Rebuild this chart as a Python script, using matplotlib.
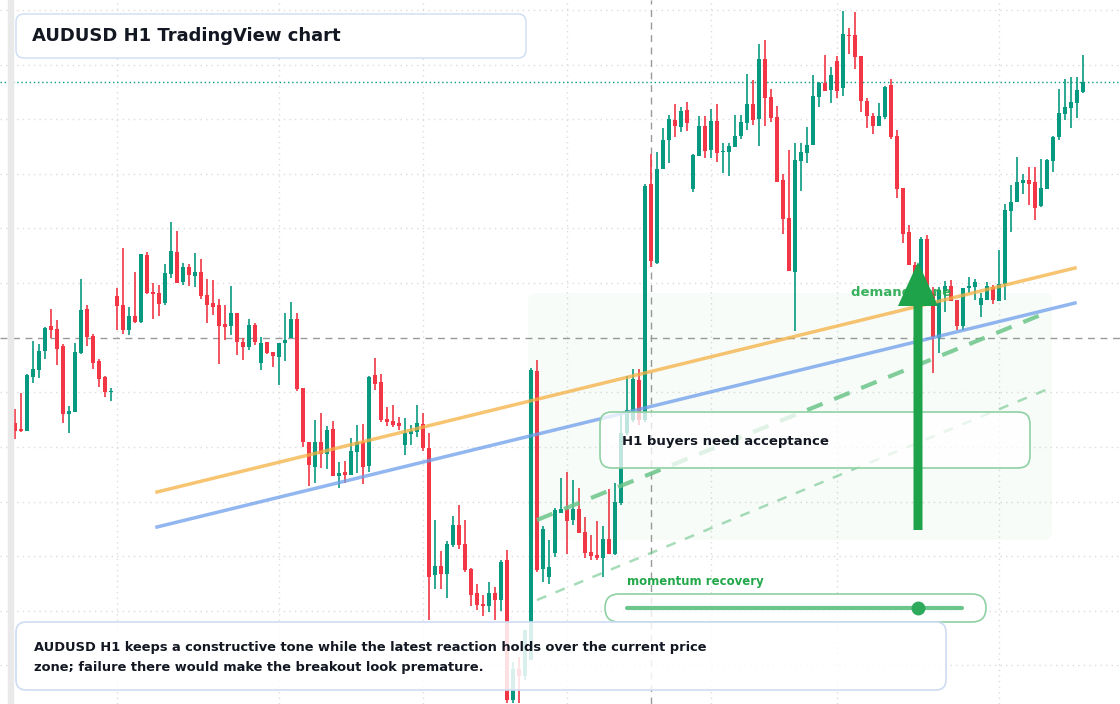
import matplotlib.pyplot as plt
import matplotlib.patches as patches
import numpy as np

# candle levels (screen rows, smaller = higher price)
opens = [423, 429, 431, 377, 370, 351, 326, 329, 346, 414, 412, 353, 309, 336, 361, 377, 392,
         296, 305, 330, 316, 322, 255, 292, 293, 303, 274, 252, 282, 267, 276, 272, 295, 303,
         305, 324, 326, 313, 342, 347, 325, 363, 342, 352, 357, 343, 338, 319, 388, 442, 467,
         442, 454, 429, 476, 472, 475, 452, 442, 466, 375, 382, 419, 421, 423, 445, 434, 432,
         424, 448, 575, 566, 574, 545, 525, 544, 569, 593, 604, 606, 593, 600, 560, 700, 669,
         676, 660, 371, 569, 577, 553, 513, 509, 520, 509, 532, 552, 555, 558, 539, 554, 503,
         433, 420, 380, 420, 184, 263, 169, 140, 120, 127, 110, 189, 156, 126, 150, 121, 152,
         152, 147, 136, 123, 104, 119, 59, 97, 117, 180, 218, 272, 161, 153, 145, 97, 83, 90,
         61, 88, 35, 35, 56, 101, 116, 126, 117, 85, 136, 188, 232, 265, 290, 239, 293, 338,
         291, 286, 300, 326, 288, 287, 305, 300, 287, 301, 284, 211, 202, 183, 180, 182, 206,
         189, 161, 137, 114, 108, 103, 92]
closes = [431, 431, 375, 369, 351, 328, 330, 349, 414, 411, 352, 310, 337, 363, 379, 392, 391,
          306, 330, 316, 322, 254, 293, 294, 304, 273, 251, 283, 267, 275, 272, 296, 305, 307,
          326, 327, 313, 342, 347, 325, 342, 343, 353, 356, 343, 340, 319, 389, 442, 465, 442,
          454, 430, 476, 473, 475, 451, 442, 467, 377, 384, 420, 422, 425, 426, 433, 431, 423,
          448, 577, 566, 574, 544, 525, 545, 570, 595, 605, 606, 593, 600, 562, 700, 669, 676,
          630, 370, 570, 529, 567, 510, 509, 521, 509, 533, 553, 556, 558, 539, 554, 502, 433,
          410, 379, 420, 186, 261, 169, 140, 119, 126, 111, 123, 155, 126, 151, 121, 153, 151,
          146, 136, 122, 104, 120, 59, 98, 118, 182, 219, 271, 160, 152, 145, 96, 83, 91, 75,
          91, 34, 36, 57, 101, 116, 126, 116, 87, 137, 189, 234, 265, 300, 239, 293, 337, 290,
          286, 301, 326, 288, 286, 282, 298, 286, 300, 284, 210, 202, 182, 180, 184, 208, 188,
          160, 137, 113, 107, 102, 90, 82]
highs = [409, 393, 374, 341, 344, 327, 309, 320, 344, 406, 343, 279, 305, 334, 359, 376, 388,
         288, 248, 307, 272, 254, 252, 283, 285, 264, 222, 231, 263, 264, 253, 259, 279, 280,
         299, 305, 286, 313, 338, 319, 323, 337, 342, 352, 343, 313, 302, 313, 388, 442, 420,
         413, 426, 421, 462, 461, 438, 425, 424, 376, 358, 374, 407, 405, 417, 418, 425, 405,
         413, 433, 520, 551, 541, 516, 505, 520, 568, 584, 595, 582, 587, 560, 550, 662, 657,
         630, 368, 360, 526, 540, 508, 478, 472, 480, 488, 517, 535, 521, 526, 489, 483, 413,
         376, 369, 369, 184, 154, 152, 128, 115, 104, 107, 102, 154, 116, 116, 109, 104, 143,
         143, 115, 115, 74, 80, 44, 40, 89, 106, 174, 150, 143, 143, 127, 75, 82, 55, 67,
         56, 11, 28, 12, 56, 98, 113, 103, 86, 79, 130, 188, 225, 262, 237, 235, 287, 287,
         281, 280, 300, 288, 277, 279, 293, 282, 285, 250, 204, 185, 157, 174, 167, 167, 159,
         159, 136, 89, 79, 77, 77, 55]
lows = [439, 432, 431, 383, 378, 359, 338, 365, 423, 433, 412, 354, 346, 369, 387, 397, 401,
        330, 334, 335, 323, 323, 294, 319, 316, 305, 278, 283, 285, 286, 287, 299, 323, 315,
        364, 340, 335, 355, 360, 350, 345, 370, 354, 367, 385, 361, 338, 391, 447, 486, 483,
        468, 469, 476, 488, 483, 475, 473, 484, 472, 390, 422, 426, 427, 430, 455, 445, 437,
        451, 620, 589, 589, 598, 547, 549, 572, 606, 610, 616, 612, 620, 611, 703, 703, 703,
        680, 660, 572, 582, 584, 557, 513, 554, 525, 533, 558, 560, 560, 577, 554, 555, 505,
        435, 422, 425, 422, 267, 264, 169, 163, 137, 132, 131, 192, 156, 158, 158, 162, 173,
        176, 147, 139, 130, 125, 146, 126, 122, 182, 234, 271, 331, 191, 163, 145, 107, 91,
        103, 98, 96, 54, 69, 112, 128, 134, 126, 119, 139, 198, 243, 265, 310, 292, 300, 373,
        353, 312, 301, 330, 330, 293, 300, 317, 300, 304, 301, 300, 232, 202, 194, 205, 220,
        207, 189, 172, 140, 120, 128, 118, 93]

up_color = '#089981'
down_color = '#F23645'

fig = plt.figure(figsize=(11.2, 7.04), dpi=100)
ax = fig.add_axes([0, 0, 1, 1])
idx = np.arange(len(opens))
ax.set_xlim(-2.5, (1120 - 15) / 6)
ax.set_ylim(704, 0)
ax.axis('off')

# overlay in screen pixels for guides and annotations
ov = fig.add_axes([0, 0, 1, 1], facecolor='none')
ov.set_xlim(0, 1120)
ov.set_ylim(704, 0)
ov.axis('off')

# grid
for gx in [117, 279, 423, 567, 711, 837, 999]:
    ax.axvline((gx - 15) / 6, color='#dcdcdc', lw=1, ls=(0, (1, 3)), zorder=0)
for gy in [10, 65, 119, 174, 228, 283, 392, 447, 502, 556, 611, 665]:
    ax.axhline(gy, color='#dcdcdc', lw=1, ls=(0, (1, 3)), zorder=0)
ov.add_patch(patches.Rectangle((8, 0), 5, 704, color='#e9e9e9', zorder=0))

# crosshair and last price
ax.axhline(338, color='#9a9a9a', lw=1, ls=(0, (5, 4)), zorder=1)
ax.axvline((651 - 15) / 6, color='#9a9a9a', lw=1, ls=(0, (5, 4)), zorder=1)
ax.axhline(82, color='#089981', lw=1, ls=(0, (1, 2)), zorder=1)

# demand zone shading
ov.add_patch(patches.FancyBboxPatch((528, 293), 524, 247, boxstyle='round,pad=0,rounding_size=8',
                                    fc='#22a84a', alpha=0.03, ec='none', zorder=1))

# candles
for i, o, c, h, l in zip(idx, opens, closes, highs, lows):
    col = up_color if c < o else down_color
    ax.vlines(i, h, l, color=col, lw=1.2, zorder=2)
    ax.add_patch(patches.Rectangle((i - 0.38, min(o, c)), 0.76, max(abs(o - c), 1.2),
                                   color=col, lw=0, zorder=3))

# trend lines
ov.plot([157, 1075], [492, 268], color='#f5b041', lw=2.5, alpha=0.75, zorder=4)
ov.plot([157, 1075], [527, 303], color='#6d9eeb', lw=2.5, alpha=0.75, zorder=4)
ov.plot([537, 1048], [520, 312], color='#6cc58a', lw=3, ls=(0, (4, 3)), alpha=0.85, zorder=4)
ov.plot([537, 1048], [600, 389], color='#6cc58a', lw=1.8, ls=(0, (4, 4)), alpha=0.6, zorder=4)

# title box
ov.add_patch(patches.FancyBboxPatch((16, 14), 510, 44, boxstyle='round,pad=0,rounding_size=8',
                                    fc='white', ec='#cddcf3', lw=1, zorder=6))
ov.text(32, 36, 'AUDUSD H1 TradingView chart', fontsize=13, fontweight='bold',
        color='#131722', va='center', zorder=7)

# acceptance box
ov.add_patch(patches.FancyBboxPatch((600, 412), 430, 56, boxstyle='round,pad=0,rounding_size=12',
                                    fc=(1, 1, 1, 0.75), ec='#8fd1a3', lw=1.2, zorder=6))
ov.text(622, 441, 'H1 buyers need acceptance', fontsize=9.5, fontweight='bold',
        color='#131722', va='center', zorder=7)

# demand label and arrow
ov.text(851, 293, 'demand zone', fontsize=9.5, fontweight='bold', color='#22a84a',
        va='center', alpha=0.9, zorder=7)
ov.add_patch(patches.FancyArrow(918, 530, 0, -268, width=9, head_width=40, head_length=44,
                                length_includes_head=True, fc='#1ea34a', ec='none', zorder=8))

# momentum gauge
ov.text(627, 582, 'momentum recovery', fontsize=8.5, fontweight='bold', color='#22a84a',
        va='center', zorder=7)
ov.add_patch(patches.FancyBboxPatch((605, 594), 381, 28, boxstyle='round,pad=0,rounding_size=14',
                                    fc=(1, 1, 1, 0.8), ec='#8fd1a3', lw=1.2, zorder=6))
ov.plot([627, 962], [608, 608], color='#6cc58a', lw=3, solid_capstyle='round', zorder=7)
ov.plot([918], [608], 'o', color='#2eaa5c', ms=9, zorder=8)

# bottom commentary
ov.add_patch(patches.FancyBboxPatch((16, 622), 930, 68, boxstyle='round,pad=0,rounding_size=10',
                                    fc=(1, 1, 1, 0.85), ec='#cddcf3', lw=1.2, zorder=6))
ov.text(34, 648, 'AUDUSD H1 keeps a constructive tone while the latest reaction holds over the current price',
        fontsize=9.4, fontweight='bold', color='#131722', va='center', zorder=7)
ov.text(34, 668, 'zone; failure there would make the breakout look premature.',
        fontsize=9.4, fontweight='bold', color='#131722', va='center', zorder=7)

fig.savefig('out.png', dpi=100)
